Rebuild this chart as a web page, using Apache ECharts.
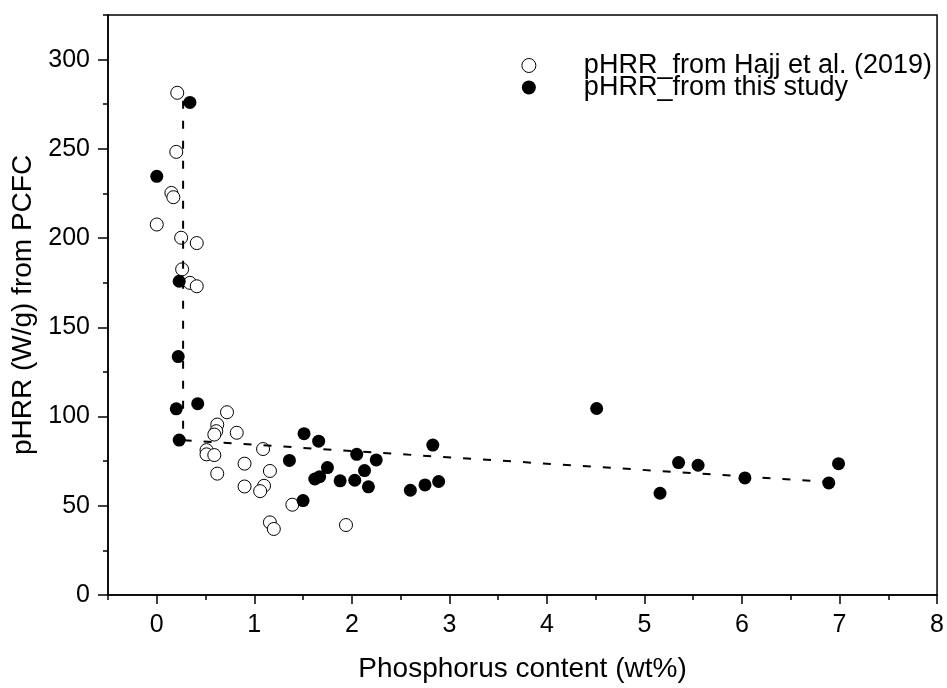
<!DOCTYPE html>
<html>
<head>
<meta charset="utf-8">
<script src="https://cdn.jsdelivr.net/npm/echarts@6/dist/echarts.min.js"></script>
<style>
html,body{margin:0;padding:0;background:#fff;}
#chart{width:947px;height:688px;}
</style>
</head>
<body>
<div id="chart"></div>
<script>
// ---- data ----
const hajjData = [
  [0.21,281.4],[0.20,248.3],[0.15,225.3],[0.17,222.9],[0.00,207.6],[0.25,200.2],
  [0.41,197.2],[0.26,182.5],[0.34,174.9],[0.41,173.0],[0.72,102.4],[0.62,95.5],
  [0.61,91.8],[0.59,89.9],[0.82,90.9],[0.51,81.2],[0.51,78.8],[0.59,78.4],
  [1.09,81.8],[0.62,68.0],[0.90,73.6],[1.16,69.5],[0.90,60.8],[1.10,61.2],
  [1.06,58.2],[1.39,50.6],[1.16,40.7],[1.20,37.0],[1.94,39.2]
];
const studyData = [
  [0.34,276.0],[0.00,234.6],[0.23,175.8],[0.22,133.6],[0.20,104.3],[0.42,107.2],
  [0.23,86.8],[1.36,75.4],[1.51,90.4],[1.66,86.2],[1.75,71.4],[1.62,65.0],
  [1.67,66.3],[1.88,64.0],[1.50,52.9],[2.05,78.8],[2.25,75.7],[2.13,69.7],
  [2.03,64.3],[2.17,60.6],[2.83,84.0],[2.60,58.7],[2.75,61.7],[2.89,63.6],
  [4.51,104.5],[5.16,57.0],[5.35,74.2],[5.55,72.7],[6.03,65.6],[6.89,62.8],
  [6.99,73.6]
];
const fitLine = [[0.27,277],[0.27,86.8],[6.85,63.5]];
const xTicks = [0,1,2,3,4,5,6,7,8];
const yTicks = [0,50,100,150,200,250,300];
const seriesNames = ['pHRR_from Hajj et al. (2019)','pHRR_from this study'];
const xTitle = 'Phosphorus content (wt%)';
const yTitle = 'pHRR (W/g) from PCFC';

const FONT = '"Liberation Sans", Arial, sans-serif';
const chart = echarts.init(document.getElementById('chart'));
const axisLine = {show:true, onZero:false, lineStyle:{color:'#000', width:1.5}};

chart.setOption({
  animation:false,
  backgroundColor:'#fff',
  grid:{left:108, right:8, top:15, bottom:90, show:true, borderColor:'#000', borderWidth:1.5, containLabel:false},
  legend:{
    right:10, top:47, orient:'vertical', itemGap:-5, itemWidth:100, itemHeight:14,
    data:[
      {name:seriesNames[0], icon:'circle', itemStyle:{color:'#fff', borderColor:'#000', borderWidth:1}},
      {name:seriesNames[1], icon:'circle', itemStyle:{color:'#000'}}
    ],
    textStyle:{fontFamily:FONT, fontSize:27, color:'#000', lineHeight:22}
  },
  xAxis:[
    {type:'value', min:-0.5, max:8, position:'bottom',
     axisLine:axisLine,
     axisTick:{show:true, inside:false, length:9, customValues:xTicks, lineStyle:{color:'#000', width:1.5}},
     axisLabel:{customValues:xTicks, fontFamily:FONT, fontSize:25, color:'#000', margin:18},
     splitLine:{show:false},
     name:xTitle, nameLocation:'middle', nameGap:60,
     nameTextStyle:{fontFamily:FONT, fontSize:28, color:'#000'}},
    {type:'value', min:-0.5, max:8, interval:0.5, position:'bottom',
     axisLine:{show:false, onZero:false},
     axisTick:{show:true, inside:false, length:5, lineStyle:{color:'#000', width:1.5}},
     axisLabel:{show:false}, splitLine:{show:false}}
  ],
  yAxis:[
    {type:'value', min:0, max:325, position:'left',
     axisLine:axisLine,
     axisTick:{show:true, inside:false, length:10, customValues:yTicks, lineStyle:{color:'#000', width:1.5}},
     axisLabel:{customValues:yTicks, fontFamily:FONT, fontSize:25, color:'#000', margin:18},
     splitLine:{show:false},
     name:yTitle, nameLocation:'middle', nameGap:54,
     nameTextStyle:{fontFamily:FONT, fontSize:28, color:'#000'}},
    {type:'value', min:0, max:325, interval:25, position:'left',
     axisLine:{show:false, onZero:false},
     axisTick:{show:true, inside:false, length:5, lineStyle:{color:'#000', width:1.5}},
     axisLabel:{show:false}, splitLine:{show:false}}
  ],
  series:[
    {name:seriesNames[0], type:'scatter', data:hajjData, symbol:'circle', symbolSize:13,
     itemStyle:{color:'#fff', borderColor:'#000', borderWidth:1, opacity:1}, z:2},
    {name:seriesNames[1], type:'scatter', data:studyData, symbol:'circle', symbolSize:13,
     itemStyle:{color:'#000', opacity:1}, z:3},
    {name:'fit', type:'line', data:fitLine, showSymbol:false, symbol:'none',
     lineStyle:{color:'#000', width:2, type:[8,12]}, z:4, silent:true}
  ]
});
</script>
</body>
</html>
